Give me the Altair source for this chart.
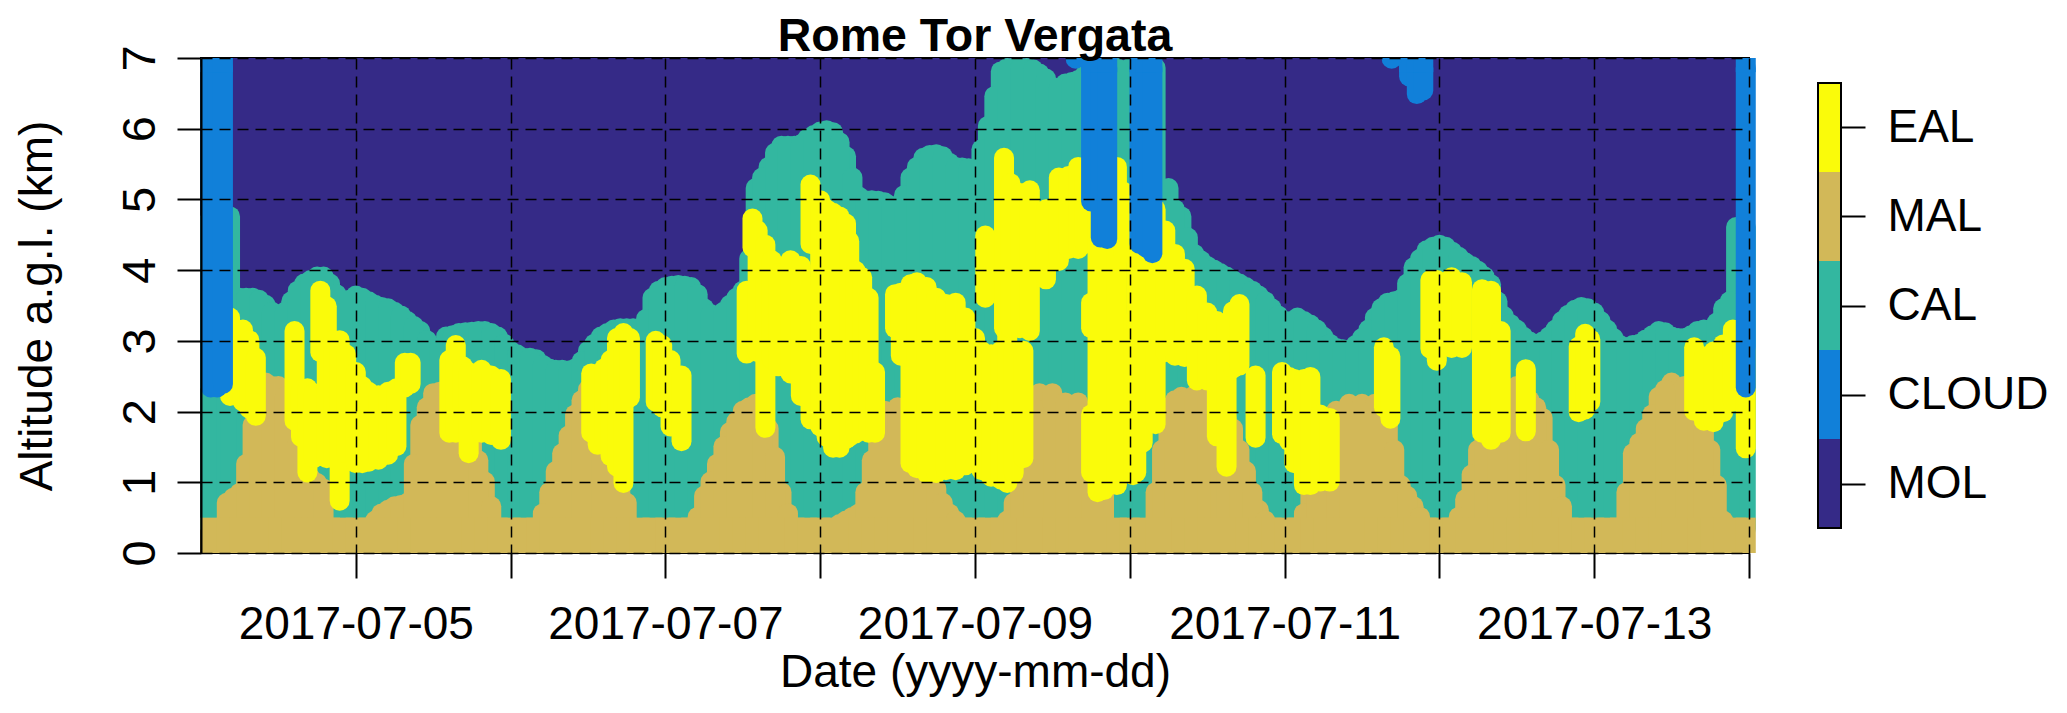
import json
import altair as alt
import pandas as pd

FONT = "Liberation Sans"
START = pd.Timestamp("2017-07-04T00:00:00")
END = "2017-07-14T00:00:00"
CAP_KM = 0.14   # half the round mark thickness, in km

colors = {"MOL": "#352A87", "CLOUD": "#1180D9", "CAL": "#33B7A0", "MAL": "#D2B858", "EAL": "#FAFB0A"}
classes = ["MOL", "CLOUD", "CAL", "MAL", "EAL"]
tick_dates = ["2017-07-%02dT00:00:00" % d for d in range(5, 15)]
y_ticks = [0, 1, 2, 3, 4, 5, 6, 7]

profile_hours = [1.5] + list(range(4, 239, 2)) + [239.5]
cal_top = [4.9,4.9,3.75,3.75,3.65,3.5,3.7,3.95,4.05,3.95,
           3.7,3.78,3.7,3.62,3.55,3.42,3.28,3.0,3.2,3.25,
           3.27,3.28,3.2,3.0,2.9,2.88,2.75,2.73,2.75,3.0,
           3.2,3.3,3.32,3.3,3.75,3.9,3.93,3.9,3.6,3.5,
           3.65,3.85,5.3,5.6,5.9,5.9,6.0,6.1,6.09,5.75,
           5.18,5.13,5.1,4.99,5.45,5.73,5.78,5.66,5.59,5.57,
           6.18,6.95,7,7,6.92,6.73,6.78,6.83,7,7,
           7,7,7,7,5.3,4.9,4.37,4.2,4.1,4.0,
           3.9,3.78,3.6,3.42,3.47,3.37,3.2,3.04,3.0,3.18,
           3.47,3.68,3.73,4.18,4.42,4.5,4.4,4.25,4.13,3.94,
           3.49,3.3,3.13,3.13,3.3,3.51,3.62,3.54,3.3,3.08,
           3.08,3.16,3.28,3.2,3.18,3.28,3.3,3.6,4.75,4.75]
mal_top = [.5,.85,.99,1.95,2.55,2.5,2.2,1.3,1.13,.5,
           .5,.5,.5,.7,.8,.85,1.95,2.4,2.45,2.4,
           1.9,1.15,.5,.5,.5,.5,1.0,1.55,2.1,2.45,
           2.45,1.8,.85,.5,.5,.5,.5,.5,.95,1.4,
           1.85,2.15,2.25,1.9,1.0,.5,.5,.5,.5,.6,
           .7,1.45,2.15,2.2,2.2,2.2,1.05,.7,.5,.5,
           .5,.5,.85,2.0,2.4,2.4,2.27,2.27,2.1,2.0,
           .5,.5,.5,1.0,2.2,2.35,2.37,2.37,2.2,1.9,
           1.3,.75,.5,.5,.5,1.0,2.0,2.15,2.25,2.25,
           2.25,2.2,1.1,.8,.5,.5,.5,.9,1.6,2.1,
           2.45,2.5,2.3,2.05,1.1,.5,.5,.5,.5,.5,
           1.55,1.9,2.35,2.55,2.5,2.2,1.6,.6,.5,.5]

# profiles read at the hours in between
cal_more_hours = [4.5,7,9,11,13,15,17,19,21,23,25,27,29,31,33,35,37,39,41,43,45,47,49,51,53,55,57,59,61,63,65,67,69,71,
                  73,75,77,79,81,83,85,87,89,91,93,95,97,99,101,103,105,107,109,111,113,115,117,119,121,123,125,127,129,
                  131,133,135,137,151,153,155,157,159,161,163,165,167,169,171,173,175,177,179,181,183,185,187,189,191,193,
                  195,197,199,201,203,205,207,209,211,213,215,217,219,221,223,225,227,229,231,233,235,237]
cal_more_top = [4.9,3.75,3.72,3.55,3.55,3.85,4.0,4.05,3.8,3.72,3.75,3.65,3.6,3.5,3.35,3.15,3.05,3.22,3.26,3.28,3.25,3.1,2.95,2.9,
                2.8,2.73,2.72,2.85,3.1,3.25,3.32,3.32,3.45,3.85,
                3.92,3.92,3.8,3.52,3.55,3.75,4.3,5.45,5.8,5.9,5.92,6.05,6.12,5.95,5.45,5.13,5.12,5.05,5.2,5.6,5.77,5.75,5.6,5.58,5.85,6.6,7,7,6.98,
                6.85,6.72,6.8,6.9,5.0,4.6,4.28,4.15,4.05,3.95,3.85,3.7,3.5,3.42,3.42,3.3,3.1,3.02,3.08,3.3,3.6,3.7,3.95,4.3,4.47,4.47,
                4.33,4.2,4.05,3.7,3.38,3.2,3.08,3.2,3.42,3.58,3.6,3.42,3.18,3.05,3.1,3.22,3.26,3.18,3.22,3.3,3.4,3.7]
mal_more_hours = [5,7,9,11,13,15,17,19,27,29,31,33,35,37,43,45,53,55,57,59,65,77,79,81,83,85,87,89,91,99,101,103,105,115,117,
                  125,127,129,149,151,159,161,163,165,171,173,185,187,189,195,197,199,201,207,209,211,221,223,225,227,233,235]
mal_more_top = [.92,1.4,2.3,2.5,2.35,1.7,1.2,1.05,.6,.75,.82,1.4,2.2,2.42,1.45,.8,.7,1.3,1.8,2.3,1.3,.65,1.15,1.65,2.0,2.2,2.1,1.5,.7,.55,.65,1.0,1.8,.85,.6,
                .6,1.4,2.2,1.6,2.3,2.05,1.6,1.0,.6,.7,1.5,1.6,.95,.65,.65,1.25,1.85,2.3,2.2,1.6,.8,1.0,1.7,2.1,2.45,1.9,1.1]

eal_hours = [4.5,6.5,7.5,8.5,14.5,15.5,16.5,17.5,18.5,19.5,20.5,21.5,22.5,24,25,26,27.5,29,30.3,31.6,32.5,
             38.5,39.5,40.6,41.5,43.5,45,46.5,
             60.5,61.5,62.5,63.5,64.5,65.5,66.5,
             70.5,71.5,72.8,74.5,
             84.6,85.5,86.3,87.5,88.5,89.5,91.4,93,94.5,94.5,96,96,97,98,99,100,100.5,101.5,102.5,103.5,104.5,
             107.6,108.5,110,111,112.5,114,115.5,117,118.5,120,121,121.6,122.5,124,124.5,125,125.5,126,127,127.5,128.5,
             131,133,134.5,136,137,138,138,139,140,142,143,144.5,145,146,148,149.5,151,152.5,154.4,156,157.5,159,160,161,
             163.5,167.6,168.7,169.5,171,172,173.5,175,
             183.4,184.4,190.6,191.6,193.9,195.5,198.6,200,201.5,205.4,
             213.6,214.6,215.4,231.5,233,234.5,236,237.5,239.5]
eal_lo = [2.08,2.0,1.9,1.8,1.73,1.5,1.0,1.2,2.7,1.2,1.2,0.6,1.27,1.13,1.13,1.15,1.18,1.25,1.37,2.2,2.25,
          1.56,1.56,1.75,1.27,1.56,1.53,1.46,
          1.56,1.39,1.45,1.23,1.08,.85,2.06,
          2.0,1.92,1.65,1.44,
          2.68,4.18,2.7,1.63,2.6,2.5,2.4,2.08,1.75,4.23,1.65,3.66,1.5,1.35,1.35,1.47,1.5,1.55,1.6,1.56,1.56,
          3.04,2.65,1.13,1.06,.99,.99,1.03,1.03,1.1,1.18,1.03,3.47,.94,.9,3.04,.85,3.04,.99,3.04,1.2,3.0,
          3.73,3.99,4.16,4.16,4.23,1.0,3.04,.72,.75,.82,4.1,.96,1.0,1.42,1.68,2.7,2.65,2.63,2.3,2.3,1.51,1.08,2.47,2.51,
          1.49,1.54,1.44,1.13,.82,.82,.87,.87,
          1.92,1.76,2.75,2.58,2.76,2.76,1.56,1.46,1.56,1.58,
          1.85,1.89,2.0,1.87,1.73,1.71,1.85,2.0,1.34]
eal_hi = [3.47,3.3,3.15,2.9,3.28,2.45,2.47,2.4,3.85,3.63,3.15,3.15,2.95,2.7,2.5,2.42,2.37,2.42,2.47,2.83,2.83,
          2.87,3.08,2.78,2.7,2.73,2.65,2.6,
          2.68,2.63,2.75,2.87,3.18,3.25,3.18,
          3.14,3.08,2.87,2.65,
          3.85,4.87,4.7,4.5,4.28,4.1,4.28,4.2,3.9,5.35,3.6,5.13,5.0,4.95,4.9,4.8,4.55,4.13,4.04,3.75,2.7,
          3.8,3.82,3.94,3.97,3.9,3.75,3.66,3.68,3.47,3.18,3.0,4.63,2.95,3.0,5.73,3.4,5.37,3.0,5.23,3.0,5.27,
          5.0,5.45,5.47,5.6,5.6,2.1,3.68,5.6,5.6,5.6,5.25,3.42,5.0,5.0,5.0,4.7,4.37,4.16,3.78,3.54,3.42,3.37,3.56,3.66,
          2.65,2.7,2.63,2.6,2.6,2.63,2.1,2.05,
          3.05,2.92,4.0,4.0,4.04,3.97,3.87,3.85,3.28,2.74,
          3.06,3.24,3.16,3.05,2.92,2.99,3.09,3.3,3.0]

cloud_hours = [1.5,2.5,3.4,138,139.5,140.5,145.5,146.5,147.5,187.3,188.5,189.5,239.5]
cloud_lo = [2.2,2.2,2.25,4.83,4.32,4.3,4.23,4.18,4.1,6.6,6.35,6.4,2.2]
cloud_hi = [7]*13
# thin cloud lobes hanging from the top of the plot
lobe_hours = [135.6,184.6]
lobe_lo = [6.85,6.85]
lobe_hi = [7.2,7.2]


def rows(hours, lo, hi):
    return pd.DataFrame({
        "t": [START + pd.Timedelta(hours=float(h)) for h in hours],
        "lo": [v + CAP_KM for v in lo],
        "hi": [v - CAP_KM for v in hi],
    })


def flat(hours, lo, hi):
    return pd.DataFrame({
        "t": [START + pd.Timedelta(hours=float(h)) for h in hours],
        "lo": [lo] * len(hours),
        "hi": [hi] * len(hours),
    })


x_scale = alt.Scale(domain=[START.isoformat(), END])
y_scale = alt.Scale(domain=[0, 7], nice=False)
W, H, STROKE = 1548, 495, 20

all_cal_hours = profile_hours + cal_more_hours
all_cal_top = cal_top + cal_more_top
cal_df = rows(all_cal_hours, [0.2] * len(all_cal_hours), all_cal_top)
mal_pairs = [(h, v) for h, v in zip(profile_hours + mal_more_hours, mal_top + mal_more_top) if v > 0.5]
mal_df = rows([p[0] for p in mal_pairs], [0.2] * len(mal_pairs), [p[1] for p in mal_pairs])
base_df = flat(profile_hours, 0.0, 0.5)
eal_df = rows(eal_hours, eal_lo, eal_hi)
cloud_df = rows(cloud_hours, cloud_lo, cloud_hi)
cloud_flat_df = flat(cloud_hours, 6.8, 7.0)
lobe_df = rows(lobe_hours, lobe_lo, lobe_hi)
sky_df = pd.DataFrame({"a": [START], "b": [pd.Timestamp(END)], "lo": [0], "hi": [7]})

x_axis = alt.Axis(values=tick_dates, grid=True, gridColor="black", gridDash=[11, 7], gridWidth=1.5,
                  labelExpr="date(datum.value) % 2 == 1 ? timeFormat(datum.value, '%Y-%m-%d') : ''",
                  labelOverlap=False, labelFlush=False, labelFontSize=46, labelFont=FONT, labelColor="black",
                  labelLimit=500, labelPadding=24, tickSize=25, tickColor="black", tickWidth=2,
                  domain=False, title="Date (yyyy-mm-dd)", titleFont=FONT, titleFontSize=46,
                  titleFontWeight="normal", titleColor="black", titlePadding=3, zindex=1)
y_axis = alt.Axis(values=y_ticks, format="d", grid=True, gridColor="black", gridDash=[11, 7], gridWidth=1.5,
                  labelAngle=270, labelAlign="center", labelBaseline="middle", labelFontSize=47, labelFont=FONT,
                  labelColor="black", labelPadding=37, tickSize=24, tickColor="black", tickWidth=2,
                  domainColor="black", domainWidth=2, title="Altitude a.g.l. (km)", titleFont=FONT,
                  titleFontSize=46, titleFontWeight="normal", titleColor="black", titlePadding=55, zindex=1)

sky = alt.Chart(sky_df).mark_rect(color=colors["MOL"]).encode(
    x=alt.X("a:T", scale=x_scale, axis=x_axis),
    x2="b:T",
    y=alt.Y("lo:Q", scale=y_scale, axis=y_axis),
    y2="hi:Q",
)


def band(df, name, cap="round", clip=False):
    return alt.Chart(df).mark_rule(color=colors[name], strokeWidth=STROKE, strokeCap=cap, clip=clip).encode(
        x=alt.X("t:T", scale=x_scale),
        y=alt.Y("hi:Q", scale=y_scale),
        y2="lo:Q",
    )


main = alt.layer(
    sky,
    band(cal_df, "CAL"),
    band(mal_df, "MAL"),
    band(base_df, "MAL", cap="butt"),
    band(eal_df, "EAL"),
    band(cloud_df, "CLOUD"),
    band(cloud_flat_df, "CLOUD", cap="butt"),
    band(lobe_df, "CLOUD", clip=True),
).properties(
    width=W, height=H,
    view=alt.ViewConfig(stroke="black", strokeWidth=2),
    title=alt.TitleParams("Rome Tor Vergata", font=FONT, fontSize=46.5, fontWeight="bold", color="black",
                          anchor="middle", offset=-16),
)

bar_df = pd.DataFrame({"name": classes, "lo": range(5), "hi": range(1, 6)})
frame_df = pd.DataFrame({"lo": [0], "hi": [5]})
bar_scale = alt.Scale(domain=[-0.28, 5.28], nice=False)
labels_js = json.dumps(classes)
bar_axis = alt.Axis(values=[0.5, 1.5, 2.5, 3.5, 4.5], orient="right", title=None, domain=False, grid=False,
                    labelExpr=labels_js + "[floor(datum.value)]", labelFont=FONT, labelFontSize=46,
                    labelColor="black", labelPadding=22, tickSize=24, tickColor="black", tickWidth=2)
bar_fill = alt.Chart(bar_df).mark_rect().encode(
    x=alt.value(0), x2=alt.value(23),
    y=alt.Y("lo:Q", scale=bar_scale, axis=bar_axis),
    y2="hi:Q",
    color=alt.Color("name:N", scale=alt.Scale(domain=classes, range=[colors[c] for c in classes]), legend=None),
)
bar_frame = alt.Chart(frame_df).mark_rect(fill=None, stroke="black", strokeWidth=2).encode(
    x=alt.value(0), x2=alt.value(23),
    y=alt.Y("lo:Q", scale=bar_scale),
    y2="hi:Q",
)
colorbar = alt.layer(bar_fill, bar_frame).properties(width=23, height=H, view=alt.ViewConfig(stroke=None))

chart = alt.hconcat(main, colorbar, spacing=60).configure(background="white")
chart.save("out.html", embed_options={"renderer": "svg", "actions": False})
